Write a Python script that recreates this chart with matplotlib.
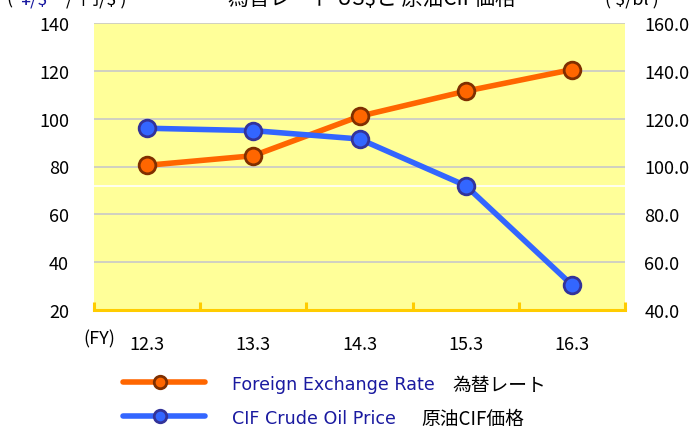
import matplotlib
matplotlib.use("Agg")
import matplotlib.pyplot as plt
from matplotlib.lines import Line2D

categories = ["12.3", "13.3", "14.3", "15.3", "16.3"]
fx_rate = [80.5, 84.5, 101.0, 111.5, 120.5]        # 円/$ (left axis)
cif_price = [116.0, 115.0, 111.5, 92.0, 50.5]      # $/bl (right axis)
left_ticks = [20, 40, 60, 80, 100, 120, 140]
right_ticks = [40.0, 60.0, 80.0, 100.0, 120.0, 140.0, 160.0]

JP = ["Noto Sans CJK JP", "DejaVu Sans"]
plt.rcParams["font.family"] = JP

W, H = 694, 431
fig = plt.figure(figsize=(W / 100, H / 100), dpi=100)

def fx(px):
    return px / W

def fy(py):
    return 1 - py / H

ax = fig.add_axes([fx(94), fy(311), fx(625) - fx(94), fy(24) - fy(311)])
ax.set_facecolor("#FFFF99")
x = list(range(len(categories)))
ax.set_xlim(-0.5, len(categories) - 0.5)
ax.set_ylim(20, 140)

for v in left_ticks[1:]:
    ax.axhline(v, color="#C8C8C8", lw=1.2, zorder=1)
ax.axhline(72, color="white", lw=1.2, zorder=1)

for s in ["top", "left", "right"]:
    ax.spines[s].set_visible(False)
ax.spines["bottom"].set_color("#FFCC00")
ax.spines["bottom"].set_linewidth(2.2)

edges = [i - 0.5 for i in range(len(categories) + 1)]
ax.set_xticks(edges)
ax.set_xticklabels([])
ax.tick_params(axis="x", direction="in", length=6, width=2.2, color="#FFCC00")
ax.set_yticks(left_ticks)
ax.set_yticklabels([str(v) for v in left_ticks], fontsize=13)
ax.tick_params(axis="y", length=0, pad=18)

for i, c in enumerate(categories):
    ax.text(i, -0.118, c, transform=ax.get_xaxis_transform(), ha="center", va="center", fontsize=13)
fig.text(fx(99), fy(339), "(FY)", ha="center", va="center", fontsize=13)

ax2 = ax.twinx()
ax2.set_ylim(40, 160)
for s in ["top", "left", "right", "bottom"]:
    ax2.spines[s].set_visible(False)
ax2.set_yticks(right_ticks)
ax2.set_yticklabels([f"{v:.1f}" for v in right_ticks], fontsize=13)
ax2.tick_params(axis="y", length=0, pad=14)

ax.plot(x, fx_rate, color="#FF6600", lw=4, marker="o", ms=12,
        mfc="#FF6600", mec="#7F2F00", mew=2, zorder=5, clip_on=False)
ax2.plot(x, cif_price, color="#3366FF", lw=4, marker="o", ms=12,
         mfc="#3366FF", mec="#333399", mew=2, zorder=5, clip_on=False)

# Title (cut off at top) and axis units
fig.text(fx(372), fy(-1), "為替レート US$と 原油CIF価格", ha="center", va="center", fontsize=15)
fig.text(fx(6), fy(-1), "(", ha="left", va="center", fontsize=13)
fig.text(fx(20), fy(-1), "¥/$", ha="left", va="center", fontsize=13, color="#1a1aa0")
fig.text(fx(66), fy(-1), "/  円/$ )", ha="left", va="center", fontsize=13)
fig.text(fx(605), fy(-1), "( $/bl )", ha="left", va="center", fontsize=13)

# Legend
for py, col, ec in [(383, "#FF6600", "#7F2F00"), (417, "#3366FF", "#333399")]:
    fig.add_artist(Line2D([fx(123), fx(205)], [fy(py), fy(py)], color=col, lw=4,
                          solid_capstyle="round", transform=fig.transFigure))
    fig.add_artist(Line2D([fx(160)], [fy(py)], marker="o", ms=9, mfc=col, mec=ec, mew=2,
                          transform=fig.transFigure))
fig.text(fx(232), fy(385), "Foreign Exchange Rate", ha="left", va="center", fontsize=12.6,
         color="#1a1aa0", family="DejaVu Sans")
fig.text(fx(452), fy(385), "為替レート", ha="left", va="center", fontsize=13.5)
fig.text(fx(232), fy(419), "CIF Crude Oil Price", ha="left", va="center", fontsize=12.6,
         color="#1a1aa0", family="DejaVu Sans")
fig.text(fx(421), fy(419), "原油CIF価格", ha="left", va="center", fontsize=13.5)

fig.savefig("out.png", dpi=100)
